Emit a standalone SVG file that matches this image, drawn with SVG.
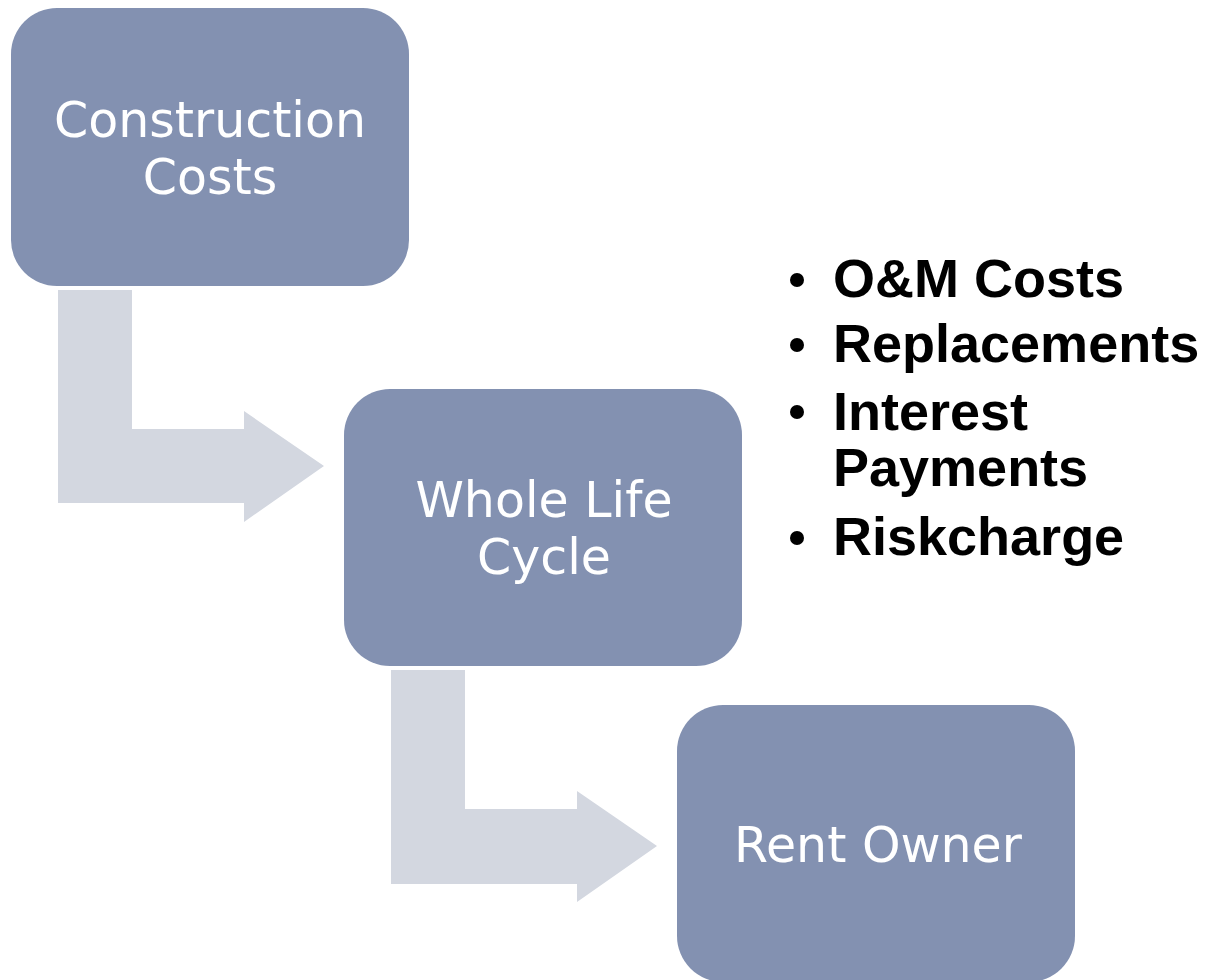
<svg xmlns="http://www.w3.org/2000/svg" width="1208" height="980" viewBox="0 0 1208 980">
<style>
.box{fill:#8391b1}
.arrow{fill:#d3d7e0}
.lbl{font-family:"DejaVu Sans","Liberation Sans",sans-serif;font-size:49px;fill:#ffffff;text-anchor:middle}
.bul{font-family:"Liberation Sans",Arial,sans-serif;font-size:54px;font-weight:bold;fill:#000000}
</style>
<rect width="1208" height="980" fill="#ffffff"/>
<g id="connectors">
<path class="arrow" d="M58,290 H132 V429 H244 V411 L324,466 L244,522 V503 H58 Z"/>
<path class="arrow" d="M391,670 H465 V809 H577 V791 L657,846 L577,902 V884 H391 Z"/>
</g>
<g id="node-construction">
<rect class="box" x="11" y="8" width="398" height="278" rx="46" ry="46"/>
<text class="lbl" x="210" y="137">Construction</text>
<text class="lbl" x="210" y="194">Costs</text>
</g>
<g id="node-wholelife">
<rect class="box" x="344" y="389" width="398" height="277" rx="46" ry="46"/>
<text class="lbl" x="544" y="517">Whole Life</text>
<text class="lbl" x="544" y="574">Cycle</text>
</g>
<g id="node-rent">
<rect class="box" x="677" y="705" width="398" height="277" rx="46" ry="46"/>
<text class="lbl" x="878" y="862">Rent Owner</text>
</g>
<g id="bullets">
<circle cx="797" cy="280" r="7"/>
<text class="bul" x="833" y="297">O&amp;M Costs</text>
<circle cx="797" cy="345" r="7"/>
<text class="bul" x="833" y="362">Replacements</text>
<circle cx="797" cy="412" r="7"/>
<text class="bul" x="833" y="430">Interest</text>
<text class="bul" x="833" y="486">Payments</text>
<circle cx="797" cy="538" r="7"/>
<text class="bul" x="833" y="555">Riskcharge</text>
</g>
</svg>
